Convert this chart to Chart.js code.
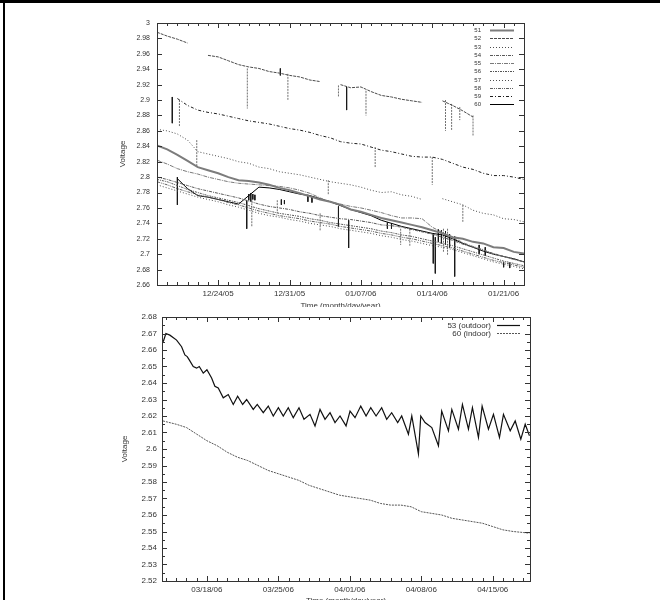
<!DOCTYPE html>
<html>
<head>
<meta charset="utf-8">
<script src="https://cdn.jsdelivr.net/npm/chart.js@4.4.1/dist/chart.umd.min.js"></script>
<style>
  html, body { margin: 0; padding: 0; background: #fff; }
  #page { position: relative; width: 660px; height: 600px; overflow: hidden; background: #fff; }
  .box { position: absolute; left: 0; width: 660px; overflow: hidden; }
  #topBox { top: 0; height: 307px; }
  #botBox { top: 307px; height: 293px; }
  #edgeTop { position: absolute; left: 0; top: 0; width: 660px; height: 3px; background: #000; }
  #edgeLeft { position: absolute; left: 3px; top: 0; width: 2px; height: 600px; background: #000; }
</style>
</head>
<body>
<div id="page">
  <div class="box" id="topBox"><canvas id="topChart" width="660" height="311"></canvas></div>
  <div class="box" id="botBox"><canvas id="botChart" width="660" height="300"></canvas></div>
  <div id="edgeTop"></div>
  <div id="edgeLeft"></div>
</div>
<script>
// ---- top panel: days since 12/18/05 ----
const topDays = [0, 1, 2, 3, 4, 5, 6, 7, 8, 9, 10, 11, 12, 13, 14, 15, 16, 17, 18,
                 19, 20, 21, 22, 23, 24, 25, 26, 27, 28, 29, 30, 31, 32, 33, 34, 35, 36];
const topTickDays = [6, 13, 20, 27, 34];
const topTickLabels = ['12/24/05', '12/31/05', '01/07/06', '01/14/06', '01/21/06'];

const mote51 = [2.841, 2.836, 2.829, 2.821, 2.813, 2.809, 2.805, 2.800, 2.796, 2.795, 2.793, 2.790, 2.786,
                2.783, 2.779, 2.775, 2.771, 2.768, 2.764, 2.758, 2.755, 2.751, 2.747, 2.744, 2.741, 2.738,
                2.735, 2.731, 2.727, 2.722, 2.720, 2.716, 2.714, 2.709, 2.708, 2.703, 2.701];
const mote52 = [2.988, 2.983, 2.979, 2.974, null, 2.958, 2.956, 2.951, 2.946, 2.943, 2.941, 2.937, 2.935,
                2.932, 2.930, 2.926, 2.924, null, 2.920, 2.916, 2.917, 2.911, 2.906, 2.904, 2.901, 2.899,
                2.897, null, 2.899, 2.893, 2.886, 2.878, null, null, null, null, null];
const mote53 = [2.862, 2.860, 2.856, 2.848, 2.833, 2.830, 2.827, 2.824, 2.820, 2.818, 2.813, 2.811, 2.807,
                2.805, 2.803, 2.800, 2.797, 2.794, 2.792, 2.790, 2.787, 2.783, 2.780, 2.781, 2.777, 2.775,
                2.771, null, 2.772, 2.768, 2.764, 2.757, 2.753, 2.751, 2.746, 2.745, 2.742];
const mote54 = [2.800, 2.797, 2.793, 2.789, 2.785, 2.782, 2.779, 2.776, 2.773, 2.769, 2.765, 2.762, 2.760,
                2.758, 2.755, 2.753, 2.750, 2.748, 2.746, 2.745, 2.743, 2.741, 2.738, 2.737, 2.735, 2.732,
                2.729, 2.726, 2.722, 2.718, 2.713, 2.709, 2.705, 2.701, 2.697, 2.694, 2.690];
const mote55 = [2.822, 2.817, 2.811, 2.807, 2.804, 2.800, 2.797, 2.794, 2.792, 2.791, 2.790, 2.789, 2.788,
                2.786, 2.783, 2.779, 2.773, 2.768, 2.765, 2.762, 2.760, 2.757, 2.754, 2.750, 2.747, 2.747,
                2.746, 2.735, 2.728, 2.722, 2.715, 2.710, 2.706, 2.700, 2.697, 2.693, 2.690];
const mote56 = [2.797, 2.794, 2.789, 2.784, 2.780, 2.776, 2.773, 2.770, 2.767, 2.763, 2.759, 2.756, 2.753,
                2.751, 2.749, 2.746, 2.744, 2.741, 2.739, 2.737, 2.735, 2.733, 2.730, 2.728, 2.725, 2.723,
                2.720, 2.717, 2.714, 2.711, 2.707, 2.703, 2.699, 2.695, 2.691, 2.688, 2.685];
const mote57 = [2.790, 2.786, 2.782, 2.778, 2.774, 2.771, 2.768, 2.764, 2.761, 2.757, 2.753, 2.750, 2.748,
                2.745, 2.743, 2.740, 2.738, 2.736, 2.733, 2.731, 2.729, 2.727, 2.724, 2.722, 2.719, 2.717,
                2.714, 2.711, 2.709, 2.706, 2.702, 2.698, 2.694, 2.690, 2.687, 2.684, 2.681];
const mote58 = [2.794, 2.790, 2.785, 2.781, 2.777, 2.774, 2.771, 2.767, 2.764, 2.760, 2.756, 2.753, 2.750,
                2.748, 2.746, 2.743, 2.741, 2.739, 2.736, 2.734, 2.732, 2.730, 2.727, 2.725, 2.722, 2.720,
                2.717, 2.714, 2.711, 2.708, 2.704, 2.700, 2.696, 2.692, 2.689, 2.686, 2.683];
const mote59 = [null, null, 2.902, 2.893, 2.887, 2.884, 2.882, 2.879, 2.876, 2.873, 2.871, 2.869, 2.866,
                2.863, 2.861, 2.858, 2.854, 2.851, 2.846, 2.844, 2.843, 2.839, 2.835, 2.833, 2.830, 2.827,
                2.826, 2.826, 2.823, 2.818, 2.813, 2.810, 2.805, 2.802, 2.802, 2.800, 2.797];
const mote60 = [null, null, 2.798, 2.785, 2.776, 2.774, 2.771, 2.768, 2.765, 2.776, 2.787, 2.786, 2.784,
                2.781, 2.778, 2.776, 2.772, 2.768, 2.763, 2.758, 2.754, 2.750, 2.744, 2.740, 2.736, 2.733,
                2.730, 2.727, 2.725, 2.720, 2.714, 2.709, 2.704, 2.700, 2.697, 2.694, 2.690];

// short drop-outs and noisy bursts: [day, from, to]
const dropsGray = [[8.86, 2.941, 2.889], [12.84, 2.934, 2.900], [17.8, 2.919, 2.904], [20.5, 2.912, 2.880],
                   [28.3, 2.900, 2.860], [28.9, 2.895, 2.861], [29.7, 2.891, 2.874], [31.0, 2.880, 2.854],
                   [2.2, 2.900, 2.865], [3.9, 2.848, 2.813], [21.4, 2.839, 2.813], [27.0, 2.826, 2.790],
                   [16.8, 2.796, 2.777], [30.0, 2.764, 2.742], [9.3, 2.770, 2.735], [23.9, 2.733, 2.712],
                   [24.8, 2.733, 2.710], [28.1, 2.733, 2.703], [28.5, 2.733, 2.699], [16.0, 2.753, 2.730],
                   [11.8, 2.770, 2.753]];
const dropsDark = [[1.5, 2.904, 2.870], [18.6, 2.917, 2.887], [2.0, 2.800, 2.764], [8.8, 2.770, 2.733],
                   [17.8, 2.762, 2.736], [18.8, 2.744, 2.708], [27.1, 2.727, 2.688], [27.3, 2.722, 2.675],
                   [29.2, 2.723, 2.671], [12.1, 2.941, 2.932],
                   [9.0, 2.778, 2.770], [9.2, 2.779, 2.769], [9.4, 2.778, 2.771], [9.6, 2.777, 2.770],
                   [12.2, 2.771, 2.764], [12.5, 2.770, 2.765], [14.8, 2.777, 2.768], [15.2, 2.775, 2.767],
                   [22.6, 2.741, 2.733], [23.0, 2.740, 2.733], [27.6, 2.732, 2.716], [27.9, 2.731, 2.714],
                   [28.3, 2.730, 2.712], [28.7, 2.726, 2.708], [31.6, 2.712, 2.700], [32.2, 2.709, 2.698],
                   [34.0, 2.690, 2.683], [34.6, 2.689, 2.682]];

// ---- bottom panel: days since 03/18/06 ----
const botTickDays = [0, 7, 14, 21, 28];
const botTickLabels = ['03/18/06', '03/25/06', '04/01/06', '04/08/06', '04/15/06'];

const outdoorDays = [-4.28, -4.02, -3.63, -2.97, -2.48, -2.16, -1.93, -1.73, -1.34, -1.01, -0.75, -0.36, 0,
                     0.46, 0.78, 1.11, 1.60, 2.09, 2.58, 3.01, 3.50, 3.89, 4.54, 4.93, 5.52, 6.01, 6.50,
                     7.00, 7.48, 7.97, 8.46, 9.02, 9.51, 10.1, 10.59, 11.08, 11.57, 12.06, 12.55, 13.04,
                     13.63, 14.02, 14.51, 15.07, 15.59, 16.05, 16.57, 17.12, 17.61, 18.1, 18.69, 19.08,
                     19.74, 20.07, 20.72, 20.95, 21.37, 22.03, 22.68, 23.0, 23.66, 23.99, 24.64, 25.03,
                     25.62, 26.01, 26.6, 26.96, 27.58, 28.07, 28.66, 29.05, 29.71, 30.2, 30.75, 31.18, 31.6];
const outdoorVolts = [2.665, 2.670, 2.669, 2.666, 2.662, 2.657, 2.656, 2.654, 2.650, 2.649, 2.650, 2.646, 2.648,
                      2.643, 2.638, 2.637, 2.631, 2.633, 2.627, 2.632, 2.627, 2.630, 2.624, 2.627, 2.622,
                      2.626, 2.620, 2.625, 2.620, 2.625, 2.619, 2.625, 2.618, 2.621, 2.614, 2.624, 2.618,
                      2.622, 2.616, 2.620, 2.614, 2.623, 2.619, 2.626, 2.620, 2.625, 2.620, 2.625, 2.618,
                      2.622, 2.616, 2.620, 2.609, 2.620, 2.597, 2.620, 2.616, 2.613, 2.602, 2.623, 2.611,
                      2.624, 2.612, 2.627, 2.612, 2.625, 2.607, 2.626, 2.612, 2.621, 2.607, 2.621, 2.611,
                      2.617, 2.606, 2.615, 2.608];
const indoorDays = [-4.3, -3, -2, -1, 0, 1, 2, 3, 4, 5, 6, 7, 8, 9, 10, 11, 12, 13, 14, 15, 16, 17,
                    18, 19, 20, 21, 22, 23, 24, 25, 26, 27, 28, 29, 30, 31.6];
const indoorVolts = [2.617, 2.615, 2.613, 2.609, 2.605, 2.602, 2.598, 2.595, 2.593, 2.590, 2.587, 2.585,
                     2.583, 2.581, 2.578, 2.576, 2.574, 2.572, 2.571, 2.570, 2.569, 2.567, 2.566, 2.566,
                     2.565, 2.562, 2.561, 2.560, 2.558, 2.557, 2.556, 2.555, 2.553, 2.551, 2.550, 2.549];

const FONT = 'Liberation Sans, Arial, sans-serif';
const INK = '#333';

function pts(xs, ys) {
    return xs.map((x, i) => ({ x, y: ys[i] }));
}

function dropPts(list) {
    const out = [];
    list.forEach(([x, a, b]) => { out.push({ x, y: a }, { x, y: b }, { x, y: null }); });
    return out;
}

function series(label, data, color, width, dash) {
    return {
        label, data,
        borderColor: color, borderWidth: width, borderDash: dash || [],
        pointRadius: 0, tension: 0, spanGaps: false, fill: false,
    };
}

// gnuplot-like ticks pointing into the box, plus the box itself
const innerTicks = {
    id: 'innerTicks',
    afterDatasetsDraw(chart, args, o) {
        const { ctx, chartArea: a, scales: { x, y } } = chart;
        ctx.save();
        ctx.strokeStyle = INK;
        ctx.lineWidth = 1;
        ctx.beginPath();
        x.ticks.forEach(t => {
            const px = Math.round(x.getPixelForValue(t.value)) + 0.5;
            const len = o.majorX(t.value) ? 5 : 3;
            ctx.moveTo(px, a.bottom); ctx.lineTo(px, a.bottom - len);
            ctx.moveTo(px, a.top); ctx.lineTo(px, a.top + len);
        });
        y.ticks.forEach(t => {
            const py = Math.round(y.getPixelForValue(t.value)) + 0.5;
            const len = o.majorY(t.value) ? 5 : 3;
            ctx.moveTo(a.left, py); ctx.lineTo(a.left + len, py);
            ctx.moveTo(a.right, py); ctx.lineTo(a.right - len, py);
        });
        ctx.stroke();
        ctx.strokeRect(Math.round(a.left) + 0.5, Math.round(a.top) + 0.5,
                       Math.round(a.right - a.left), Math.round(a.bottom - a.top));
        ctx.restore();
    }
};

// key in the upper right corner: text first, line sample after it
const sideLegend = {
    id: 'sideLegend',
    afterDraw(chart, args, o) {
        const ctx = chart.ctx;
        ctx.save();
        ctx.font = o.font;
        ctx.textAlign = 'right';
        ctx.textBaseline = 'middle';
        ctx.fillStyle = INK;
        let row = 0;
        chart.data.datasets.forEach(ds => {
            if (!ds.label) return;
            const yy = Math.round(o.y + row * o.step) + 0.5;
            ctx.fillText(ds.label, o.textRight, yy);
            ctx.strokeStyle = ds.borderColor;
            ctx.lineWidth = ds.borderWidth;
            ctx.setLineDash(ds.borderDash || []);
            ctx.beginPath();
            ctx.moveTo(o.x1, yy);
            ctx.lineTo(o.x2, yy);
            ctx.stroke();
            ctx.setLineDash([]);
            row++;
        });
        ctx.restore();
    }
};

function axisTitle(text, padTop, padBottom) {
    return { display: true, text, color: INK, font: { family: FONT, size: 8 }, padding: { top: padTop, bottom: padBottom } };
}

function buildChart(id, cfg) {
    return new Chart(document.getElementById(id), {
        type: 'line',
        data: { datasets: cfg.datasets },
        options: {
            responsive: false,
            animation: false,
            devicePixelRatio: 1,
            layout: { padding: cfg.padding },
            plugins: {
                legend: { display: false },
                tooltip: { enabled: false },
                innerTicks: { majorX: cfg.majorX, majorY: cfg.majorY },
                sideLegend: cfg.legend,
            },
            scales: {
                x: {
                    type: 'linear',
                    min: cfg.xMin, max: cfg.xMax,
                    grid: { display: false, drawTicks: false },
                    border: { display: false },
                    afterFit: s => { s.height = cfg.xHeight; },
                    ticks: {
                        stepSize: 1, autoSkip: false, maxRotation: 0, includeBounds: false,
                        padding: cfg.xPad, color: INK, font: { family: FONT, size: 8 },
                        callback: cfg.xLabel,
                    },
                    title: axisTitle('Time (month/day/year)', 0, cfg.xTitlePad),
                },
                y: {
                    min: cfg.yMin, max: cfg.yMax,
                    grid: { display: false, drawTicks: false },
                    border: { display: false },
                    afterFit: s => { s.width = cfg.yWidth; },
                    ticks: {
                        stepSize: cfg.yStep, autoSkip: false, includeBounds: false,
                        padding: cfg.yPad, color: INK, font: { family: FONT, size: cfg.yFont },
                        callback: cfg.yLabel,
                    },
                    title: axisTitle('Voltage', 8, 0),
                },
            },
        },
        plugins: [innerTicks, sideLegend],
    });
}

const nearDay = (v, list) => list.findIndex(d => Math.abs(v - d) < 1e-6);
const wholeHundredth = v => Math.abs(v * 100 - Math.round(v * 100)) < 1e-6;

buildChart('topChart', {
    datasets: [
        series('51', pts(topDays, mote51), '#7c7c7c', 2),
        series('52', pts(topDays, mote52), '#4a4a4a', 1, [3, 1]),
        series('53', pts(topDays, mote53), '#4e4e4e', 1, [1, 2]),
        series('54', pts(topDays, mote54), '#5a5a5a', 1, [3, 1, 1, 1]),
        series('55', pts(topDays, mote55), '#7a7a7a', 1, [4, 1, 1, 1]),
        series('56', pts(topDays, mote56), '#555', 1, [2, 1, 1, 1]),
        series('57', pts(topDays, mote57), '#505050', 1, [1, 2]),
        series('58', pts(topDays, mote58), '#606060', 1, [3, 1, 1, 1, 1, 1]),
        series('59', pts(topDays, mote59), '#1e1e1e', 1, [3, 2, 1, 2]),
        series('60', pts(topDays, mote60), '#000', 1),
        series('', dropPts(dropsGray), '#707070', 1, [2, 1]),
        series('', dropPts(dropsDark), '#1a1a1a', 1),
    ],
    padding: { left: 110, right: 136, top: 23, bottom: 0 },
    xMin: 0, xMax: 36, xHeight: 26, xPad: 4, xTitlePad: 0,
    xLabel: v => { const i = nearDay(v, topTickDays); return i < 0 ? '' : topTickLabels[i]; },
    yMin: 2.66, yMax: 3.0, yStep: 0.02, yWidth: 47, yPad: 7, yFont: 7,
    yLabel: v => String(+v.toFixed(2)),
    majorX: v => nearDay(v, topTickDays) >= 0,
    majorY: () => true,
    legend: { font: '6px ' + FONT, textRight: 481, y: 30, step: 8.26, x1: 490, x2: 514 },
});

buildChart('botChart', {
    datasets: [
        series('53 (outdoor)', pts(outdoorDays, outdoorVolts), '#111', 1.2),
        series('60 (indoor)', pts(indoorDays, indoorVolts), '#555', 1, [2, 1]),
    ],
    padding: { left: 112, right: 130, top: 10, bottom: 0 },
    // range is deliberately not a whole number of days so ticks land on whole days
    xMin: -4.4, xMax: 31.65, xHeight: 26, xPad: 4, xTitlePad: 1,
    xLabel: v => { const i = nearDay(v, botTickDays); return i < 0 ? '' : botTickLabels[i]; },
    yMin: 2.52, yMax: 2.68, yStep: 0.005, yWidth: 50, yPad: 5, yFont: 8,
    yLabel: v => wholeHundredth(v) ? String(+v.toFixed(2)) : '',
    majorX: v => nearDay(v, botTickDays) >= 0,
    majorY: wholeHundredth,
    legend: { font: '8px ' + FONT, textRight: 491, y: 18, step: 8, x1: 497, x2: 520 },
});
</script>
</body>
</html>
